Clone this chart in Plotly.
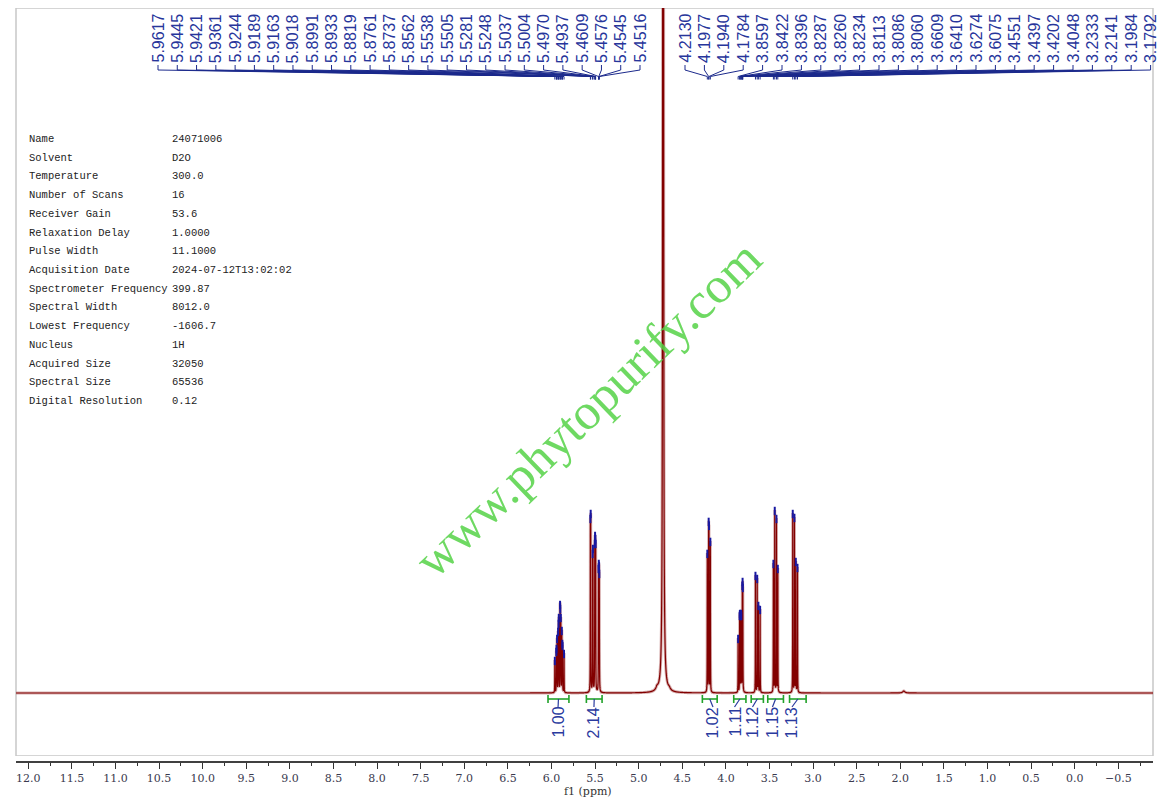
import numpy as np
import plotly.graph_objects as go

# ---------------- data ----------------
peak_ppm = [5.9617, 5.9445, 5.9421, 5.9361, 5.9244, 5.9189, 5.9163, 5.9018, 5.8991, 5.8933,
            5.8819, 5.8761, 5.8737, 5.8562,
            5.5538, 5.5505, 5.5281, 5.5248, 5.5037, 5.5004, 5.4970, 5.4937, 5.4609, 5.4576,
            5.4545, 5.4516,
            4.2130, 4.1977, 4.1940, 4.1784,
            3.8597, 3.8422, 3.8396, 3.8287, 3.8260, 3.8234, 3.8113, 3.8086, 3.8060,
            3.6609, 3.6410, 3.6274, 3.6075,
            3.4551, 3.4397, 3.4202, 3.4048,
            3.2333, 3.2141, 3.1984, 3.1792]
# apparent peak heights (arbitrary units = pixels above baseline in the reference)
peak_height = [33, 42, 45, 55, 62, 70, 76, 89, 85, 76,
               63, 50, 48, 40,
               175, 180, 140, 145, 150, 158, 155, 150, 125, 130,
               128, 120,
               140, 172, 168, 152,
               55, 78, 80, 78, 80, 78, 108, 112, 106,
               118, 115, 88, 84,
               130, 183, 175, 125,
               180, 176, 132, 126]
solvent_ppm = 4.72
solvent_height = 4000.0
bump_ppm = [4.79, 4.65, 1.96]
bump_height = [3.0, 2.0, 2.0]

integral_start = [6.04, 5.60, 4.27, 3.91, 3.71, 3.52, 3.27]
integral_end = [5.80, 5.42, 4.10, 3.77, 3.57, 3.34, 3.08]
integral_value = ["1.00", "2.14", "1.02", "1.11", "1.12", "1.15", "1.13"]
integral_label_ppm = [5.925, 5.513, 4.148, 3.901, 3.695, 3.466, 3.242]

param_names = ["Name", "Solvent", "Temperature", "Number of Scans", "Receiver Gain",
               "Relaxation Delay", "Pulse Width", "Acquisition Date",
               "Spectrometer Frequency", "Spectral Width", "Lowest Frequency", "Nucleus",
               "Acquired Size", "Spectral Size", "Digital Resolution"]
param_values = ["24071006", "D2O", "300.0", "16", "53.6", "1.0000", "11.1000",
                "2024-07-12T13:02:02", "399.87", "8012.0", "-1606.7", "1H", "32050",
                "65536", "0.12"]

watermark = "www.phytopurify.com"
x_title = "f1 (ppm)"

# ---------------- layout geometry (page pixels; page body has an 8px margin) ----------------
PAGE_MARGIN = 8
W, H = 1166 - 2 * PAGE_MARGIN, 806 - 2 * PAGE_MARGIN
L_PX, R_PX, T_PX, B_PX = 16, 1153, 8, 762
FRAME_BOTTOM = 756
BASE_PX = 693
X_LEFT, X_RIGHT = 12.141, -0.898


def px_to_ppm(px):
    return X_LEFT + (px - L_PX) / (R_PX - L_PX) * (X_RIGHT - X_LEFT)


def px_to_paper(px):
    return (px - L_PX) / (R_PX - L_PX)


# ---------------- spectrum line (Lorentzian lines at the read peaks) ----------------
FWHM = 0.0024


def lorentz(x, c, w):
    return 1.0 / (1.0 + (2.0 * (x - c) / w) ** 2)


pk = np.array(peak_ppm)
ht = np.array(peak_height, dtype=float)
A = lorentz(pk[:, None], pk[None, :], FWHM)
amp = np.clip(np.linalg.solve(A, ht), 0, None)

coarse = np.arange(X_RIGHT, X_LEFT, 0.002)
fine_parts = [np.arange(5.78, 6.05, 0.00015), np.arange(5.40, 5.62, 0.00015),
              np.arange(4.55, 4.90, 0.0002), np.arange(3.05, 4.30, 0.00015)]
xs = np.unique(np.concatenate([coarse, *fine_parts, pk]))[::-1]


def spectrum(x):
    y = (amp[None, :] * lorentz(x[:, None], pk[None, :], FWHM)).sum(axis=1)
    y = y + solvent_height * lorentz(x, solvent_ppm, 0.005)
    for c, h in zip(bump_ppm, bump_height):
        y = y + h * lorentz(x, c, 0.03)
    return y


ys = spectrum(xs)
top_vals = spectrum(pk)

fig = go.Figure()

# spectrum halo + core
fig.add_trace(go.Scatter(x=xs, y=ys, mode="lines", hoverinfo="skip",
                         line=dict(color="rgba(175,95,95,0.5)", width=3, simplify=False)))
fig.add_trace(go.Scatter(x=xs, y=ys, mode="lines", hoverinfo="skip",
                         line=dict(color="#820000", width=1.2, simplify=False)))

# peak-pick markers
fig.add_trace(go.Scatter(x=pk, y=top_vals - 1, mode="markers", hoverinfo="skip",
                         marker=dict(symbol="line-ns", size=6,
                                     line=dict(width=2, color="#1818a0"))))

# ---------------- top peak-label connectors (pixel y axis y2) ----------------
n_a = 26
n_b = len(peak_ppm) - n_a
label_px = [158 + 19.28 * i for i in range(n_a)] + [685 + 19.4 * i for i in range(n_b)]
label_x = [px_to_ppm(p) for p in label_px]

cx, cy = [], []
for lx, p in zip(label_x, peak_ppm):
    cx += [lx, lx, p, p, None]
    cy += [65, 70, 76.5, 79.5, None]
fig.add_trace(go.Scatter(x=cx, y=cy, yaxis="y2", mode="lines", hoverinfo="skip",
                         line=dict(color="#1c2a8c", width=1)))

# ---------------- integrals ----------------
gx, gy = [], []
bx, by = [], []
for s, e, lp in zip(integral_start, integral_end, integral_label_ppm):
    gx += [s, e, None, s, s, None, e, e, None]
    gy += [699, 699, None, 695, 703, None, 695, 703, None]
    m = (s + e) / 2
    bx += [m, lp, None]
    by += [699, 707, None]
fig.add_trace(go.Scatter(x=gx, y=gy, yaxis="y2", mode="lines", hoverinfo="skip",
                         line=dict(color="#22a22a", width=1.6)))
fig.add_trace(go.Scatter(x=bx, y=by, yaxis="y2", mode="lines", hoverinfo="skip",
                         line=dict(color="#2a3a9e", width=1.2)))

annotations = []
for lx, p in zip(label_x, peak_ppm):
    annotations.append(dict(x=lx, y=64, xref="x", yref="y2", text=f"{p:.4f}",
                            textangle=-90, xanchor="center", yanchor="bottom",
                            showarrow=False, borderpad=0,
                            font=dict(family="Liberation Sans, Arial", size=16,
                                      color="#27359b")))
for lp, v in zip(integral_label_ppm, integral_value):
    annotations.append(dict(x=lp, y=706, xref="x", yref="y2", text=v,
                            textangle=-90, xanchor="center", yanchor="top",
                            showarrow=False, borderpad=0,
                            font=dict(family="Liberation Sans, Arial", size=16,
                                      color="#2a3a9e")))

# parameter table
for i, (n, v) in enumerate(zip(param_names, param_values)):
    yy = 139 + i * 18.72
    annotations.append(dict(x=px_to_paper(27), y=yy, xref="paper", yref="y2", text=n,
                            xanchor="left", yanchor="middle", showarrow=False,
                            font=dict(family="Liberation Mono", size=10.5, color="#222222")))
    annotations.append(dict(x=px_to_paper(170), y=yy, xref="paper", yref="y2", text=v,
                            xanchor="left", yanchor="middle", showarrow=False,
                            font=dict(family="Liberation Mono", size=10.5, color="#222222")))

# watermark
annotations.append(dict(x=px_to_paper(588), y=409, xref="paper", yref="y2", text=watermark,
                        textangle=-44, xanchor="center", yanchor="middle", showarrow=False,
                        font=dict(family="Liberation Serif, Times New Roman", size=51,
                                  color="rgba(85,210,70,0.85)")))

# axis title
annotations.append(dict(x=px_to_paper(588), y=(B_PX - 791) / (B_PX - T_PX), xref="paper",
                        yref="paper", text=x_title, xanchor="center", yanchor="middle",
                        showarrow=False,
                        font=dict(family="DejaVu Serif", size=11, color="#333333")))

fig.update_layout(
    width=W, height=H,
    margin=dict(l=L_PX - PAGE_MARGIN, r=(W + PAGE_MARGIN) - R_PX, t=T_PX - PAGE_MARGIN,
                b=(H + PAGE_MARGIN) - B_PX, pad=0),
    paper_bgcolor="white", plot_bgcolor="white",
    showlegend=False,
    xaxis=dict(range=[X_LEFT, X_RIGHT], anchor="free", position=0,
               showgrid=False, zeroline=False,
               showline=True, linecolor="#404040", linewidth=2,
               ticks="outside", ticklen=6, tickwidth=1.2, tickcolor="#333333",
               tick0=0, dtick=0.5, tickformat=".1f",
               tickfont=dict(family="DejaVu Serif", size=11, color="#3a3a4e"),
               minor=dict(dtick=0.25, tick0=0, ticks="outside", ticklen=3,
                          tickwidth=1, tickcolor="#333333")),
    yaxis=dict(domain=[(B_PX - FRAME_BOTTOM) / (B_PX - T_PX), 1],
               range=[BASE_PX - FRAME_BOTTOM, BASE_PX - T_PX], visible=False,
               showgrid=False, zeroline=False),
    yaxis2=dict(overlaying="y", range=[FRAME_BOTTOM, T_PX], visible=False,
                showgrid=False, zeroline=False),
    annotations=annotations,
    shapes=[dict(type="rect", xref="paper", yref="y2", x0=0, x1=1,
                 y0=T_PX, y1=FRAME_BOTTOM, line=dict(color="#c8c8c8", width=1.5),
                 layer="below")],
)

fig.write_html("out.html")
